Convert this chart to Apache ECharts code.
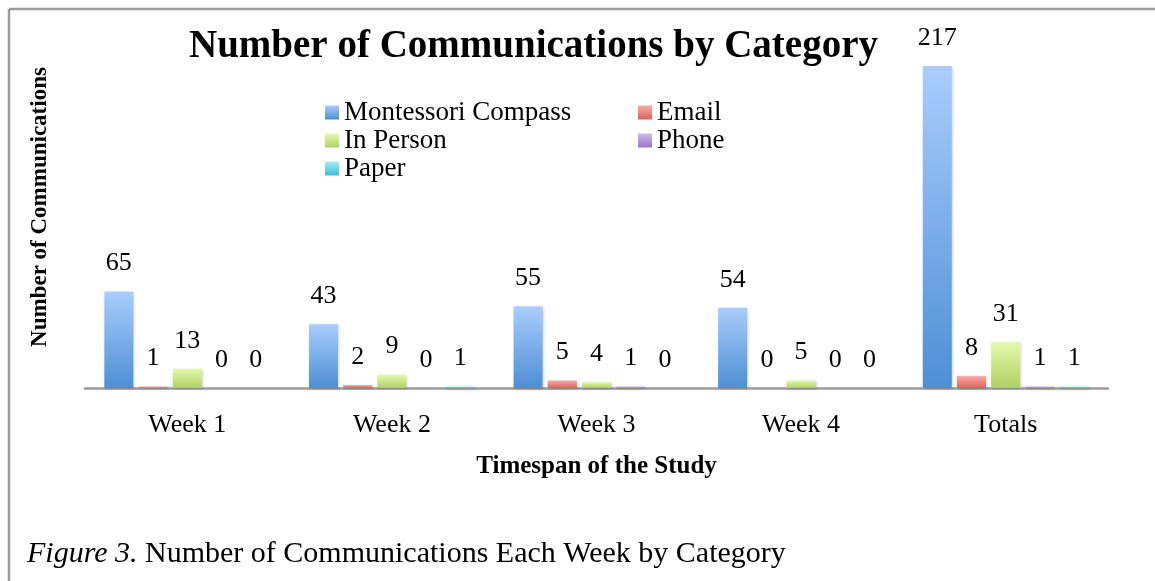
<!DOCTYPE html>
<html>
<head>
<meta charset="utf-8">
<script src="https://cdn.jsdelivr.net/npm/echarts@6/dist/echarts.min.js"></script>
<style>
  html, body { margin: 0; padding: 0; background: #fff; }
  #chart { width: 1155px; height: 581px; }
</style>
</head>
<body>
<div id="chart"></div>
<script>
const categories = ['Week 1', 'Week 2', 'Week 3', 'Week 4', 'Totals']
const montessoriCompass = [65, 43, 55, 54, 217]
const email = [1, 2, 5, 0, 8]
const inPerson = [13, 9, 4, 5, 31]
const phone = [0, 0, 1, 0, 1]
const paper = [0, 1, 0, 0, 1]

const FONT = '"Liberation Serif", "Times New Roman", serif'

// vertical gradient like the Office bar fills
const grad = (top, bottom) => ({
  type: 'linear', x: 0, y: 0, x2: 0, y2: 1,
  colorStops: [{ offset: 0, color: top }, { offset: 1, color: bottom }],
})

const makeSeries = (name, data, top, bottom) => ({
  name,
  type: 'bar',
  data,
  barWidth: 29,
  barGap: '18%',
  itemStyle: {
    color: grad(top, bottom),
    shadowColor: 'rgba(0,0,0,0.22)',
    shadowBlur: 3,
    shadowOffsetX: 1,
    shadowOffsetY: 1,
  },
  label: {
    show: true,
    position: 'top',
    distance: 15,
    color: '#000',
    fontFamily: FONT,
    fontSize: 26,
  },
})

const chart = echarts.init(document.getElementById('chart'))

const legendText = { color: '#000', fontFamily: FONT, fontSize: 27 }

chart.setOption({
  animation: false,
  title: {
    text: 'Number of Communications by Category',
    left: 189,
    top: 27,
    padding: 0,
    textStyle: { fontFamily: FONT, fontWeight: 'bold', fontSize: 39, color: '#000' },
  },
  // two legend columns, as in the original
  legend: [
    {
      orient: 'vertical',
      left: 325,
      top: 99,
      padding: 0,
      itemWidth: 14,
      itemHeight: 14,
      itemGap: 1,
      icon: 'rect',
      textStyle: legendText,
      data: ['Montessori Compass', 'In Person', 'Paper'],
    },
    {
      orient: 'vertical',
      left: 638,
      top: 99,
      padding: 0,
      itemWidth: 14,
      itemHeight: 14,
      itemGap: 1,
      icon: 'rect',
      textStyle: legendText,
      data: ['Email', 'Phone'],
    },
  ],
  grid: { left: 85, right: 47, top: 17, bottom: 193 },
  xAxis: {
    type: 'category',
    data: categories,
    axisLine: { lineStyle: { color: '#9b9b9b', width: 2.5 } },
    axisTick: { show: false },
    axisLabel: { color: '#000', fontFamily: FONT, fontSize: 26, margin: 24 },
    name: 'Timespan of the Study',
    nameLocation: 'middle',
    nameGap: 66,
    nameTextStyle: { color: '#000', fontFamily: FONT, fontWeight: 'bold', fontSize: 25 },
  },
  yAxis: {
    type: 'value',
    min: 0,
    max: 250,
    show: false,
  },
  graphic: [
    {
      type: 'line',
      shape: { x1: 9, y1: 9, x2: 1155, y2: 9 },
      style: { stroke: '#9b9b9b', lineWidth: 2.5 },
    },
    {
      type: 'line',
      shape: { x1: 9, y1: 9, x2: 9, y2: 581 },
      style: { stroke: '#9b9b9b', lineWidth: 2.5 },
    },
    {
      type: 'text',
      x: 40,
      y: 207,
      rotation: Math.PI / 2,
      style: {
        text: 'Number of Communications',
        fontFamily: FONT,
        fontWeight: 'bold',
        fontSize: 23,
        fill: '#000',
        align: 'center',
        verticalAlign: 'middle',
      },
    },
    {
      type: 'text',
      left: 27,
      top: 539,
      style: {
        text: '{i|Figure 3.} Number of Communications Each Week by Category',
        fontFamily: FONT,
        fontSize: 30,
        fill: '#000',
        rich: {
          i: { fontFamily: FONT, fontSize: 30, fontStyle: 'italic', fill: '#000' },
        },
      },
    },
  ],
  series: [
    makeSeries('Montessori Compass', montessoriCompass, '#a9cdfd', '#4d8fd5'),
    makeSeries('Email', email, '#f8aaa6', '#de625d'),
    makeSeries('In Person', inPerson, '#e3f9ad', '#b0d162'),
    makeSeries('Phone', phone, '#cdbbec', '#9478bf'),
    makeSeries('Paper', paper, '#a2f0fc', '#3dbdd6'),
  ],
})
</script>
</body>
</html>
